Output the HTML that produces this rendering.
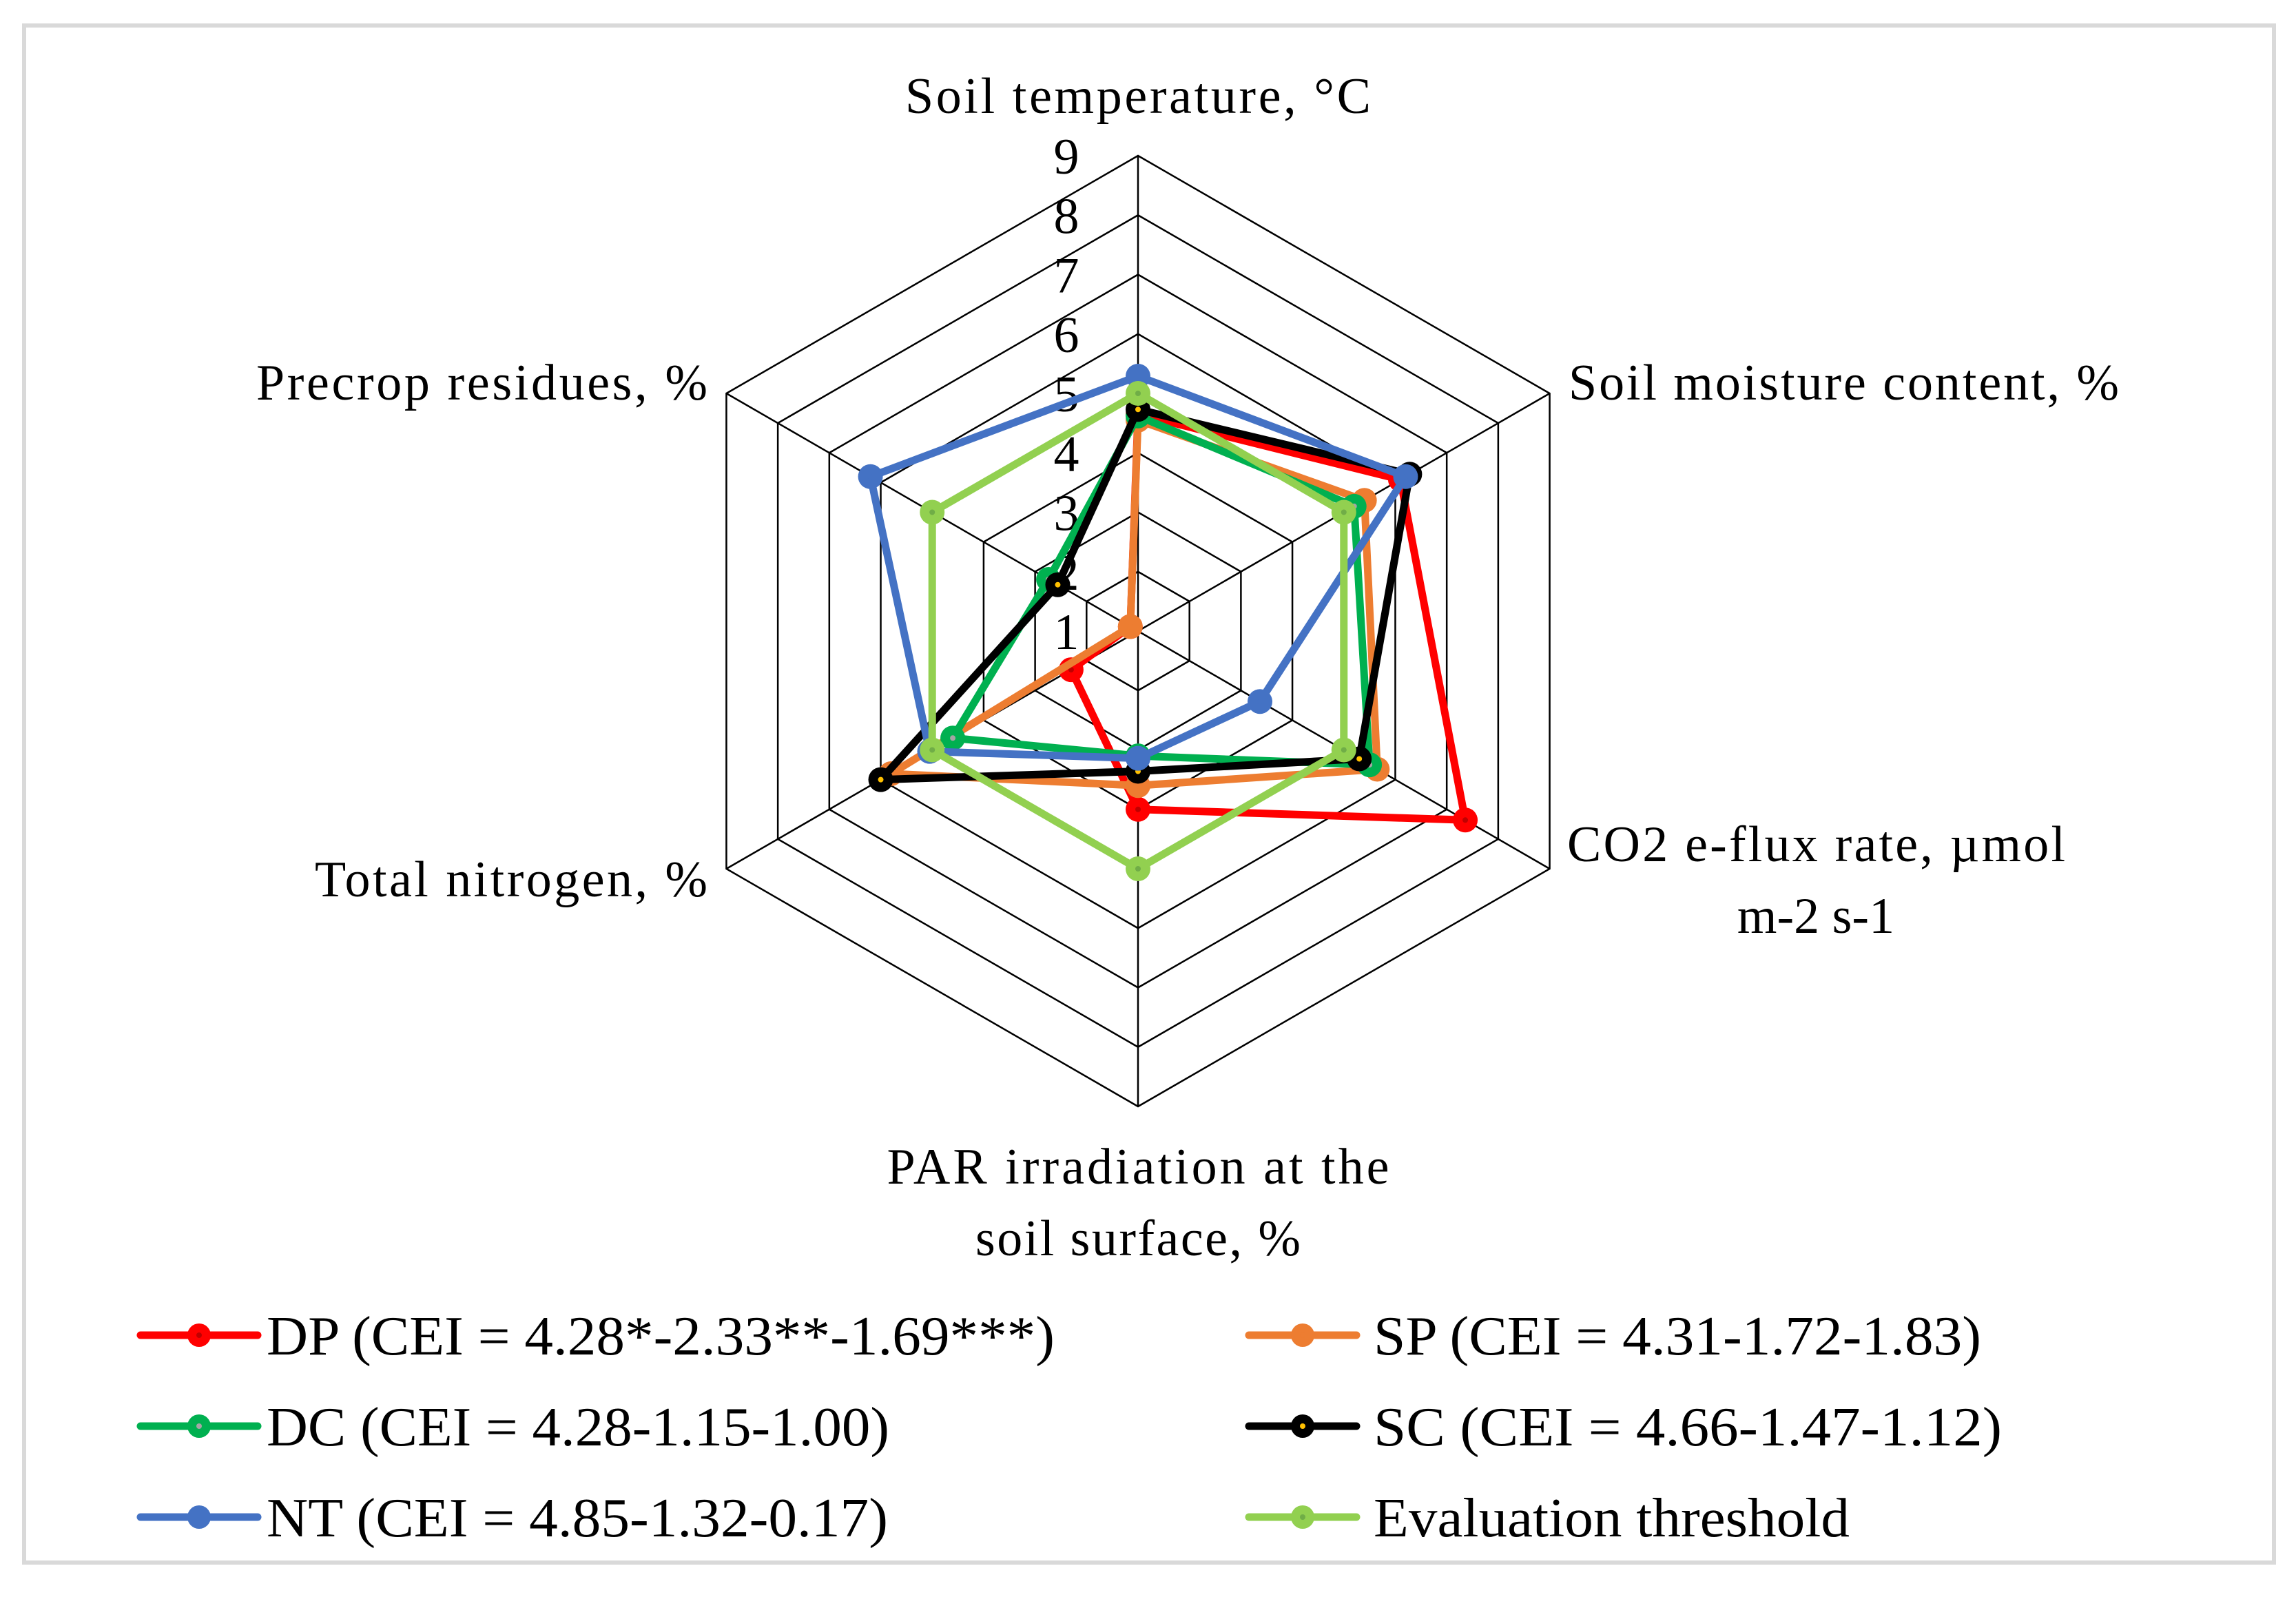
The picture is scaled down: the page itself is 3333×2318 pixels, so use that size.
<!DOCTYPE html>
<html><head><meta charset="utf-8"><style>
html,body{margin:0;padding:0;background:#fff}
svg text{font-family:"Liberation Serif",serif;fill:#000}
</style></head><body>
<svg id="chart" width="3333" height="2313" viewBox="0 0 3333 2313" xmlns="http://www.w3.org/2000/svg">
<rect x="35" y="37" width="3266" height="2231" fill="#fff" stroke="#d9d9d9" stroke-width="6"/>
<g id="grid"></g>
<g id="ticks"></g>
<g id="series"></g>
<text x="1652" y="164" font-size="74" text-anchor="middle" textLength="676">Soil temperature, °C</text>
<text x="2277" y="580" font-size="74" textLength="799">Soil moisture content, %</text>
<text x="2275" y="1250" font-size="74" textLength="723">CO2 e-flux rate, µmol</text>
<text x="2636" y="1354" font-size="74" text-anchor="middle">m-2 s-1</text>
<text x="1652" y="1718" font-size="74" text-anchor="middle" textLength="729">PAR irradiation at the</text>
<text x="1652" y="1822" font-size="74" text-anchor="middle" textLength="472">soil surface, %</text>
<text x="1027" y="1301" font-size="74" text-anchor="end" textLength="570">Total nitrogen, %</text>
<text x="1027" y="580" font-size="74" text-anchor="end" textLength="655">Precrop residues, %</text>
<g id="legend"></g>
</svg>
<script>
const axes = ["Soil temperature, °C","Soil moisture content, %","CO2 e-flux rate, µmol m-2 s-1","PAR irradiation at the soil surface, %","Total nitrogen, %","Precrop residues, %"];
const ticks = [1,2,3,4,5,6,7,8,9];
const seriesNames = ["DP","SP","DC","SC","NT","Evaluation threshold"];
const legendLabels = ["DP (CEI = 4.28*-2.33**-1.69***)","SP (CEI = 4.31-1.72-1.83)","DC (CEI = 4.28-1.15-1.00)","SC (CEI =  4.66-1.47-1.12)","NT (CEI = 4.85-1.32-0.17)","Evaluation threshold"];
const valuesDP = [4.65, 6.1, 7.36, 4.0, 2.3, 1.15];
const valuesSP = [4.55, 5.4, 5.65, 3.6, 5.8, 1.15];
const valuesDC = [4.62, 5.2, 5.5, 3.1, 4.6, 2.74];
const valuesSC = [4.73, 6.28, 5.3, 3.36, 6.0, 2.56];
const valuesNT = [5.29, 6.2, 3.37, 3.14, 5.05, 6.2];
const valuesEval = [5.0, 5.0, 5.0, 5.0, 5.0, 5.0];

const NS="http://www.w3.org/2000/svg";
const cx=1652, cy=916, R=690, vmin=1, vmax=9;
function rScale(v){return (Math.max(v,vmin)-vmin)/(vmax-vmin)*R;}
function pt(i,v){const a=-Math.PI/2+i*Math.PI/3;const r=rScale(v);return [cx+r*Math.cos(a),cy+r*Math.sin(a)];}
function mk(tag,attrs,parent){const e=document.createElementNS(NS,tag);for(const k in attrs)e.setAttribute(k,attrs[k]);parent.appendChild(e);return e;}

const grid=document.getElementById('grid');
ticks.forEach(t=>{
  if(t===vmin) return;
  const p=axes.map((a,i)=>pt(i,t).join(',')).join(' ');
  const e=mk('polygon',{points:p,fill:'none',stroke:'#000','stroke-width':2.5},grid);
  
  
});
axes.forEach((a,i)=>{
  const [x,y]=pt(i,vmax);
  const e=mk('line',{x1:cx,y1:cy,x2:x,y2:y,stroke:'#000','stroke-width':2.5},grid);
  
  
});
const tg=document.getElementById('ticks');
ticks.forEach(t=>{
  const [x,y]=pt(0,t);
  const e=mk('text',{x:x-104,y:y+26,'font-size':74,'text-anchor':'middle'},tg);
  e.textContent=t;
  
  
});

const colors=["#ff0000","#ed7d31","#00b050","#000000","#4472c4","#92d050"];
const inner=["#c00000","#ed7d31","#a5a5a5","#ffc000","#4472c4","#70ad47"];
const allVals=[valuesDP,valuesSP,valuesDC,valuesSC,valuesNT,valuesEval];
const sg=document.getElementById('series');
allVals.forEach((vals,s)=>{
  const g=mk('g',{},sg);
  
  
  const p=vals.map((v,i)=>pt(i,v).join(',')).join(' ');
  const poly=mk('polygon',{points:p,fill:'none',stroke:colors[s],'stroke-width':11,'stroke-linejoin':'round'},g);
  
  
  vals.forEach((v,i)=>{
    const [x,y]=pt(i,v);
    const c=mk('circle',{cx:x,cy:y,r:18,fill:colors[s]},g);
    
    
    const d=mk('circle',{cx:x,cy:y,r:4,fill:inner[s]},g);
    
    
  });
});

const lg=document.getElementById('legend');
const colX=[[204,374,289,387],[1813,1969,1891,1994]];
const rowY=[1938,2070,2202];
const legendWidths=[1144,882,904,912,902,691];
legendLabels.forEach((lab,k)=>{
  const c=colX[k%2], y=rowY[Math.floor(k/2)];
  const g=mk('g',{},lg);
  
  
  mk('line',{x1:c[0],y1:y,x2:c[1],y2:y,stroke:colors[k],'stroke-width':11,'stroke-linecap':'round'},g);
  mk('circle',{cx:c[2],cy:y,r:17,fill:colors[k]},g);
  mk('circle',{cx:c[2],cy:y,r:4,fill:inner[k]},g);
  const t=mk('text',{x:c[3],y:y+28,'font-size':80,textLength:legendWidths[k],lengthAdjust:'spacingAndGlyphs'},g);
  t.textContent=lab;
});
</script>
</body></html>
